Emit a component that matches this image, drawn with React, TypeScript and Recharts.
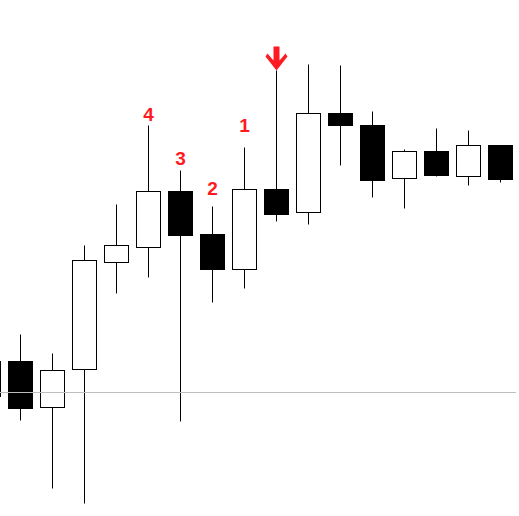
import { BarChart, Bar, XAxis, YAxis, ReferenceLine } from "recharts";

// candle values (arbitrary price units, higher = up)
const OPEN = [120, 155, 109, 147, 254, 269, 325, 282, 247, 327, 304, 403, 391, 338, 365, 340, 371];
const HIGH = [160, 182, 163, 271, 312, 391, 346, 310, 369, 446, 452, 451, 405, 367, 388, 386, 371];
const LOW = [115, 96, 28, 13, 223, 239, 95, 214, 228, 295, 292, 351, 319, 308, 340, 331, 334];
const CLOSE = [155, 108, 146, 256, 271, 325, 281, 247, 327, 302, 403, 391, 336, 365, 341, 371, 337];

// signal marks: count labels and the sell arrow
const LABELS = ["", "", "", "", "", "4", "3", "2", "1", "", "", "", "", "", "", "", ""];
const LABEL_LEVEL = [0, 0, 0, 0, 0, 395, 351, 321, 384, 0, 0, 0, 0, 0, 0, 0, 0];
const ARROW = [false, false, false, false, false, false, false, false, false, true, false, false, false, false, false, false, false];

const BASE_LEVEL = 123.5;

const data = OPEN.map((open, i) => ({
  idx: i,
  open,
  high: HIGH[i],
  low: LOW[i],
  close: CLOSE[i],
  label: LABELS[i],
  labelLevel: LABEL_LEVEL[i],
  arrow: ARROW[i],
}));

const RED = "#ff1a22";

function Candle(props: any) {
  const { x, y, width, height, payload } = props;
  if (x == null || y == null) return null;
  const top = Math.min(y, y + height);
  const bottom = Math.max(y, y + height);
  const { open, close, high, low } = payload;
  const k = (bottom - top) / (high - low || 1);
  const py = (v: number) => bottom - (v - low) * k;
  const snap = (v: number) => Math.round(v) + 0.5;

  const cx = Math.round(x + width / 2) + 0.5;
  const bull = close >= open;
  const bTop = snap(py(Math.max(open, close)));
  const bBot = snap(py(Math.min(open, close)));
  const hi = snap(py(high));
  const lo = snap(py(low));

  return (
    <g>
      {hi < bTop && <line x1={cx} x2={cx} y1={hi} y2={bTop} stroke="#000" strokeWidth={1} />}
      {lo > bBot && <line x1={cx} x2={cx} y1={bBot} y2={lo} stroke="#000" strokeWidth={1} />}
      <rect
        x={cx - 12}
        y={bTop}
        width={24}
        height={Math.max(bBot - bTop, 1)}
        fill={bull ? "#fff" : "#000"}
        stroke="#000"
        strokeWidth={1}
      />
      {payload.label && (
        <text
          x={cx}
          y={py(payload.labelLevel)}
          textAnchor="middle"
          fontFamily="'Liberation Sans', Arial, sans-serif"
          fontWeight="bold"
          fontSize={19}
          fill={RED}
        >
          {payload.label}
        </text>
      )}
      {payload.arrow && (
        <polygon
          fill={RED}
          points={[
            [cx - 3, hi - 24],
            [cx + 3, hi - 24],
            [cx + 3, hi - 10],
            [cx + 9, hi - 17],
            [cx + 11, hi - 14],
            [cx, hi],
            [cx - 11, hi - 14],
            [cx - 9, hi - 17],
            [cx - 3, hi - 10],
          ]
            .map((p) => p.join(","))
            .join(" ")}
        />
      )}
    </g>
  );
}

export default function App() {
  return (
    <div style={{ position: "absolute", left: 0, top: 0, width: 519, height: 516, background: "#fff" }}>
      <BarChart
        width={519}
        height={516}
        data={data}
        margin={{ top: 0, right: 3, bottom: 0, left: -28 }}
        barCategoryGap="0%"
      >
        <XAxis dataKey="idx" hide />
        <YAxis type="number" domain={[0, 516]} hide allowDataOverflow />
        <ReferenceLine y={BASE_LEVEL} stroke="#bdbdbd" strokeWidth={1} />
        <Bar
          dataKey={(d: any) => [d.low, d.high]}
          shape={<Candle />}
          isAnimationActive={false}
        />
      </BarChart>
    </div>
  );
}
